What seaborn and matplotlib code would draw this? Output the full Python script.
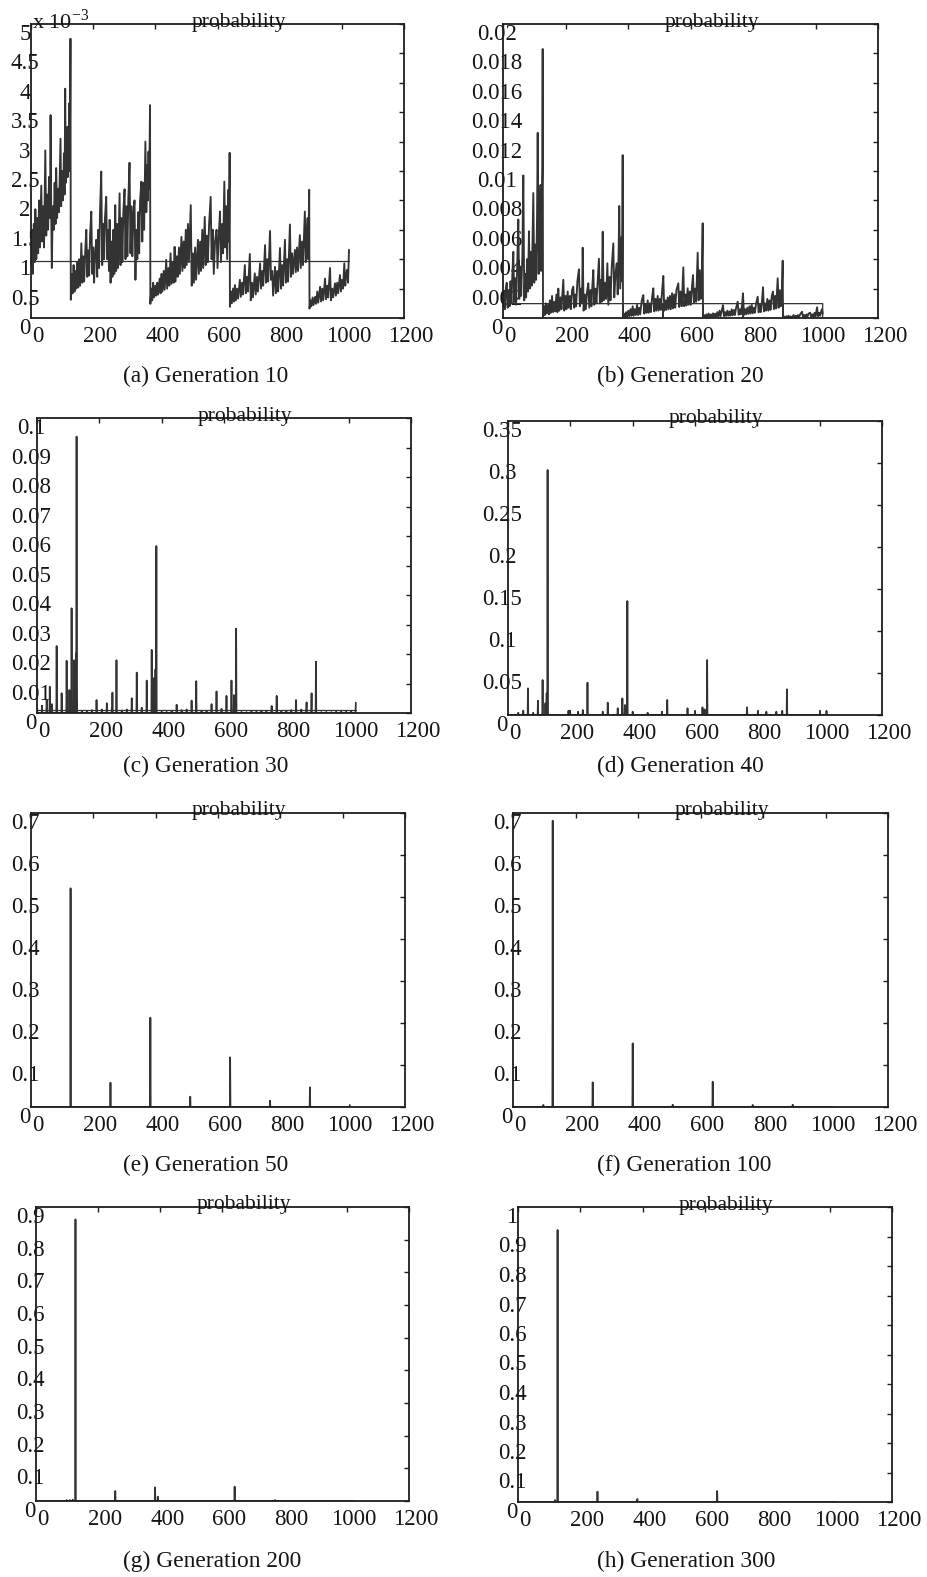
import numpy as np
import matplotlib
matplotlib.use("Agg")
import matplotlib.pyplot as plt
import seaborn as sns
from matplotlib.transforms import ScaledTranslation

sns.set_theme(style="white")
plt.rcParams["font.family"] = ["Liberation Serif", "DejaVu Serif"]
plt.rcParams["mathtext.fontset"] = "stix"

# ---------------- data ----------------
N_STATES = 1024
x_ticks = [0, 200, 400, 600, 800, 1000, 1200]
x_tick_labels = ["0", "200", "400", "600", "800", "1000", "1200"]
uniform_level = 1.0 / 1024  # initial uniform probability

# (a) Generation 10, values in units of 1e-3 (vertices)
gen10_pts = [
    (0, 0.9), (3, 1.5), (6, 0.75), (9, 1.6), (12, 0.95), (14, 1.85), (17, 1.0), (20, 1.7), (23, 1.1), (26, 2.0),
    (29, 1.2), (33, 2.25), (36, 1.3), (39, 1.9), (42, 1.2), (46, 2.85), (49, 1.4), (52, 2.1), (55, 1.5), (58, 2.4),
    (61, 1.7), (63, 3.45), (65, 1.8), (67, 0.85), (70, 1.9), (73, 1.5), (76, 2.3), (79, 1.6), (81, 2.55), (84, 1.7),
    (87, 2.2), (90, 1.8), (93, 2.6), (95, 3.05), (97, 1.9), (100, 2.5), (103, 2.0), (106, 2.8), (108, 2.1), (110, 3.9),
    (112, 2.3), (114, 3.0), (116, 2.4), (117, 3.25), (119, 2.4), (121, 3.0), (123, 3.65), (125, 2.5), (127, 4.75),
    (128, 0.31), (131, 0.75), (134, 0.42), (137, 0.9), (140, 0.45), (143, 0.8), (146, 0.5), (149, 0.95), (152, 0.52),
    (155, 1.0), (158, 0.55), (162, 1.27), (165, 0.6), (168, 1.05), (171, 0.62), (175, 1.2), (178, 1.5), (181, 0.7),
    (184, 1.15), (187, 0.72), (190, 1.4), (194, 1.81), (197, 0.75), (200, 1.2), (203, 0.6), (206, 1.1), (210, 1.33),
    (213, 0.7), (216, 1.5), (219, 0.85), (222, 1.8), (226, 2.49), (229, 0.9), (232, 1.6), (235, 1.0), (238, 1.7),
    (242, 2.06), (245, 1.0), (248, 1.5), (251, 0.8), (253, 1.67), (256, 0.6), (259, 1.3), (262, 0.7), (265, 1.5),
    (268, 0.75), (271, 1.92), (274, 0.8), (277, 1.6), (280, 0.85), (285, 2.12), (288, 0.9), (291, 1.7), (294, 0.95),
    (297, 1.8), (301, 2.19), (304, 1.0), (307, 1.9), (310, 1.05), (313, 2.0), (317, 2.64), (320, 1.1), (323, 1.9),
    (326, 1.05), (329, 1.7), (333, 2.0), (336, 0.65), (339, 1.5), (342, 1.0), (345, 1.8), (348, 1.1), (351, 2.0),
    (355, 2.32), (358, 1.3), (361, 2.3), (364, 1.5), (368, 3.0), (371, 1.8), (374, 2.6), (376, 2.0), (378, 2.83),
    (380, 2.2), (383, 3.62),
    (384, 0.24), (387, 0.5), (390, 0.3), (393, 0.6), (396, 0.35), (400, 0.55), (403, 0.38), (406, 0.6), (409, 0.4),
    (414, 0.67), (417, 0.42), (420, 0.75), (423, 0.45), (427, 0.8), (430, 0.48), (435, 0.99), (438, 0.5), (442, 0.85),
    (445, 0.55), (449, 1.1), (452, 0.58), (456, 0.95), (459, 0.6), (462, 1.21), (465, 0.62), (469, 1.05), (472, 0.7),
    (476, 1.2), (479, 0.75), (484, 1.38), (487, 0.8), (491, 1.3), (494, 0.85), (498, 1.5), (501, 0.9), (505, 1.6),
    (508, 0.95), (514, 1.92), (517, 0.55), (521, 1.1), (524, 0.6), (528, 1.2), (531, 0.65), (537, 1.33), (540, 0.75),
    (544, 1.3), (547, 0.8), (551, 1.5), (554, 0.85), (559, 1.72), (562, 0.9), (566, 1.4), (569, 0.95), (573, 1.6),
    (578, 2.06), (581, 1.0), (585, 1.5), (588, 0.75), (592, 1.3), (597, 1.5), (600, 0.85), (604, 1.4), (608, 1.81),
    (611, 0.95), (615, 1.6), (618, 1.1), (622, 2.32), (625, 1.2), (628, 1.9), (631, 1.0), (635, 2.18), (637, 1.3),
    (639, 2.81),
    (640, 0.19), (643, 0.45), (646, 0.25), (650, 0.5), (653, 0.28), (656, 0.56), (659, 0.3), (663, 0.5), (666, 0.33),
    (672, 0.65), (675, 0.36), (679, 0.6), (682, 0.4), (688, 0.9), (691, 0.42), (695, 0.7), (698, 0.45), (704, 1.09),
    (707, 0.3), (711, 0.6), (714, 0.35), (720, 0.76), (723, 0.4), (727, 0.7), (730, 0.45), (737, 0.93), (740, 0.5),
    (744, 0.8), (747, 0.55), (753, 1.24), (756, 0.6), (760, 1.0), (763, 0.62), (769, 1.48), (772, 0.65), (776, 0.8),
    (779, 0.38), (785, 0.87), (788, 0.42), (792, 0.8), (795, 0.45), (801, 1.19), (804, 0.5), (808, 0.9), (811, 0.55),
    (817, 1.33), (820, 0.6), (824, 1.0), (827, 0.62), (833, 1.59), (836, 0.7), (840, 1.1), (843, 0.75), (849, 1.16),
    (852, 0.78), (856, 1.2), (859, 0.8), (865, 1.41), (868, 0.85), (872, 1.3), (875, 0.9), (881, 1.81), (884, 0.95),
    (887, 1.4), (890, 1.7), (892, 1.0), (895, 2.18),
    (896, 0.16), (899, 0.3), (902, 0.2), (906, 0.35), (909, 0.22), (914, 0.36), (917, 0.24), (921, 0.45), (924, 0.26),
    (930, 0.53), (933, 0.28), (937, 0.5), (940, 0.3), (946, 0.67), (949, 0.32), (953, 0.55), (956, 0.35), (962, 0.85),
    (965, 0.3), (969, 0.5), (972, 0.35), (978, 0.59), (981, 0.38), (985, 0.6), (988, 0.42), (994, 0.73), (997, 0.45),
    (1001, 0.65), (1004, 0.5), (1008, 0.93), (1011, 0.55), (1014, 0.75), (1017, 0.82), (1020, 0.6), (1023, 1.16),
]
gen10_ref_x = [0, 1023]
gen10_ref_y = [0.977, 0.977]

# (b) Generation 20, values in units of 1e-3
gen20_pts = [
    (0, 0.8), (3, 1.8), (6, 0.6), (9, 2.0), (12, 2.4), (15, 0.7), (18, 1.9), (21, 0.8), (24, 2.5), (27, 1.0),
    (30, 3.0), (33, 4.5), (36, 1.1), (39, 2.7), (42, 0.9), (45, 3.2), (49, 6.7), (52, 1.3), (55, 3.5), (58, 1.5),
    (62, 4.3), (65, 9.7), (68, 1.2), (71, 3.0), (74, 1.4), (77, 4.0), (80, 1.8), (83, 5.9), (86, 2.0), (89, 4.5),
    (92, 2.2), (95, 6.0), (97, 8.5), (100, 2.4), (103, 5.0), (106, 2.6), (109, 7.0), (111, 12.6), (114, 3.0),
    (117, 6.5), (120, 9.05), (122, 3.2), (124, 7.5), (126, 10.4), (127, 18.3),
    (128, 0.1), (131, 0.8), (134, 0.2), (137, 1.0), (140, 0.3), (144, 0.9), (147, 0.25), (150, 1.2), (153, 0.35),
    (157, 1.5), (160, 0.4), (164, 1.1), (167, 0.45), (171, 1.6), (174, 0.4), (177, 2.0), (180, 0.5), (184, 1.4),
    (187, 0.6), (193, 2.6), (196, 0.5), (200, 1.5), (203, 0.6), (207, 1.8), (210, 0.7), (214, 1.5), (217, 0.6),
    (221, 1.9), (225, 2.13), (228, 0.7), (231, 1.6), (234, 0.8), (238, 2.5), (243, 3.31), (246, 0.8), (250, 2.0),
    (253, 1.0), (255, 4.78), (258, 0.5), (262, 1.6), (265, 0.6), (269, 1.8), (273, 2.36), (276, 0.7), (280, 1.9),
    (283, 0.8), (286, 2.2), (289, 3.26), (292, 0.9), (296, 2.0), (299, 1.0), (303, 2.5), (307, 4.03), (310, 1.0),
    (314, 2.6), (316, 1.1), (319, 5.87), (322, 1.2), (326, 2.4), (330, 1.3), (334, 3.72), (337, 0.9), (341, 2.8),
    (344, 1.2), (348, 3.5), (353, 5.08), (356, 1.4), (360, 3.0), (364, 3.72), (367, 1.6), (370, 4.5), (372, 7.62),
    (375, 2.0), (378, 4.2), (380, 5.53), (381, 2.5), (383, 11.08),
    (384, 0.05), (387, 0.3), (390, 0.08), (394, 0.4), (397, 0.1), (401, 0.5), (404, 0.12), (408, 0.6), (411, 0.15),
    (415, 0.8), (418, 0.15), (422, 0.6), (425, 0.2), (429, 0.9), (432, 0.2), (436, 0.7), (439, 0.25), (444, 1.2),
    (449, 1.56), (452, 0.3), (456, 0.9), (459, 0.35), (463, 1.2), (466, 0.35), (470, 1.0), (473, 0.4), (477, 1.4),
    (481, 2.02), (484, 0.45), (488, 1.3), (491, 0.5), (495, 1.5), (498, 0.5), (502, 1.3), (505, 0.55), (509, 1.8),
    (513, 2.86), (516, 0.5), (520, 1.2), (523, 0.55), (527, 1.4), (530, 0.6), (534, 1.5), (537, 0.6), (541, 1.68),
    (544, 0.65), (548, 1.6), (551, 0.7), (555, 1.9), (561, 2.36), (564, 0.75), (568, 1.8), (572, 0.8), (577, 3.45),
    (580, 0.8), (584, 1.6), (587, 0.85), (591, 2.02), (594, 0.9), (598, 1.8), (601, 0.9), (605, 2.2), (608, 2.92),
    (611, 1.0), (615, 2.0), (618, 1.1), (623, 4.44), (626, 1.2), (630, 3.26), (633, 1.3), (636, 2.5), (639, 6.44),
    (640, 0.03), (644, 0.2), (647, 0.05), (651, 0.25), (654, 0.06), (658, 0.3), (661, 0.07), (665, 0.25), (668, 0.08),
    (672, 0.32), (675, 0.08), (679, 0.3), (682, 0.1), (686, 0.4), (689, 0.1), (693, 0.5), (696, 0.12), (700, 0.5),
    (704, 0.88), (707, 0.12), (711, 0.4), (714, 0.14), (718, 0.5), (721, 0.15), (725, 0.45), (728, 0.16), (732, 0.59),
    (735, 0.18), (739, 0.55), (742, 0.2), (746, 0.7), (751, 1.11), (754, 0.22), (758, 0.6), (761, 0.25), (765, 0.9),
    (768, 1.68), (771, 0.2), (775, 0.6), (778, 0.25), (782, 0.7), (785, 0.28), (789, 0.8), (792, 0.3), (796, 0.9),
    (799, 0.32), (803, 0.7), (806, 0.35), (810, 1.0), (815, 1.45), (818, 0.38), (822, 0.9), (825, 0.4), (829, 1.2),
    (832, 2.09), (835, 0.45), (839, 1.0), (842, 0.5), (846, 1.3), (849, 0.5), (853, 1.2), (856, 0.55), (860, 1.5),
    (864, 1.79), (867, 0.6), (871, 1.5), (874, 0.65), (879, 2.7), (882, 0.7), (886, 1.9), (889, 0.8), (892, 1.5),
    (895, 3.9),
    (896, 0.02), (900, 0.1), (903, 0.02), (907, 0.12), (910, 0.03), (914, 0.15), (917, 0.03), (921, 0.1), (924, 0.04),
    (930, 0.2), (933, 0.04), (937, 0.15), (940, 0.05), (944, 0.2), (947, 0.05), (951, 0.25), (957, 0.43), (960, 0.06),
    (964, 0.2), (967, 0.07), (971, 0.25), (974, 0.08), (978, 0.3), (983, 0.36), (986, 0.08), (990, 0.25), (993, 0.1),
    (997, 0.35), (1000, 0.1), (1005, 0.73), (1008, 0.12), (1012, 0.35), (1015, 0.15), (1018, 0.45), (1021, 0.6),
    (1023, 0.3),
]
gen20_ref_x = [0, 127, 128, 129, 383, 384, 385, 511, 512, 513, 639, 640, 641, 767, 768, 769, 895, 896, 897, 1023, 1023]
gen20_ref_y = [0.977, 0.977, 0, 0.977, 0.977, 0, 0.977, 0.977, 0, 0.977, 0.977, 0, 0.977, 0.977, 0, 0.977,
               0.977, 0, 0.977, 0.977, 0]

# (c) Generation 30: low background every 16 states (1e-3) + spikes (1e-3)
gen30_background = [
    1.5, 2.5, 1.2, 3.0, 2.0, 1.8, 3.5, 2.5,
    0.4, 0.6, 0.5, 1.0, 0.8, 1.2, 1.0, 1.5,
    0.6, 0.9, 1.2, 1.5, 1.0, 1.8, 2.0, 2.5,
    0.3, 0.5, 0.4, 0.8, 0.6, 1.0, 1.2, 1.0,
    0.5, 0.8, 0.7, 1.2, 1.0, 1.4, 1.6, 2.0,
    0.2, 0.4, 0.3, 0.6, 0.5, 0.7, 0.6, 0.9,
    0.4, 0.6, 0.8, 1.0, 0.9, 1.2, 1.5, 1.8,
    0.2, 0.3, 0.4, 0.3, 0.5, 0.6, 0.5, 0.8,
]
gen30_spike_x = [31, 41, 63, 79, 95, 104, 111, 119, 125, 127, 191, 224, 242, 255, 304, 320, 352, 368, 375, 380, 383,
                 448, 496, 511, 560, 576, 608, 624, 632, 639, 753, 769, 831, 865, 881, 895, 1023]
gen30_spike_y = [4.4, 8.9, 22.7, 6.7, 17.7, 7.8, 35.5, 17.9, 20.2, 93.7, 4.4, 3.3, 6.9, 17.9, 5.0, 13.7, 11.0, 21.4,
                 11.8, 14.8, 56.6, 2.8, 4.2, 10.8, 3.0, 7.3, 5.8, 11.0, 6.1, 28.6, 2.4, 5.8, 4.4, 3.6, 6.7, 17.4, 3.5]

# (d)-(h): spikes (state index, probability)
gen40_spike_x = [33, 49, 64, 81, 96, 111, 120, 124, 127, 194, 199, 225, 240, 255, 304, 320, 352, 367, 375, 383,
                 400, 448, 494, 511, 576, 600, 624, 631, 639, 767, 802, 829, 861, 880, 895, 1001, 1022]
gen40_spike_y = [0.0027, 0.0052, 0.0317, 0.0027, 0.017, 0.0417, 0.0139, 0.0258, 0.2917, 0.0052, 0.0052, 0.004,
                 0.006, 0.0385, 0.004, 0.0147, 0.008, 0.0198, 0.0119, 0.1357, 0.004, 0.0027, 0.004, 0.0179, 0.008,
                 0.005, 0.0091, 0.0067, 0.0655, 0.0091, 0.005, 0.004, 0.004, 0.005, 0.0306, 0.005, 0.005]
gen50_spike_x = [127, 255, 383, 511, 639, 767, 895, 1023]
gen50_spike_y = [0.5207, 0.058, 0.2127, 0.0246, 0.1183, 0.015, 0.0468, 0.0048]
gen100_spike_x = [97, 127, 255, 383, 511, 639, 767, 895]
gen100_spike_y = [0.005, 0.6817, 0.0587, 0.1516, 0.0055, 0.0603, 0.005, 0.0055]
gen200_spike_x = [99, 109, 118, 127, 255, 383, 392, 639, 769]
gen200_spike_y = [0.003, 0.003, 0.004, 0.862, 0.0306, 0.0418, 0.0133, 0.0439, 0.003]
gen300_spike_x = [119, 127, 255, 383, 639]
gen300_spike_y = [0.0068, 0.922, 0.035, 0.01, 0.0373]

captions = ["(a) Generation 10", "(b) Generation 20", "(c) Generation 30", "(d) Generation 40",
            "(e) Generation 50", "(f) Generation 100", "(g) Generation 200", "(h) Generation 300"]

# ---------------- layout / style ----------------
W, H = 927, 1577
LINE = "#333333"
SPINE = "#1e1e1e"
TXT = "#151515"
boxes = [(31, 24, 404, 318), (503, 24, 878, 318), (37, 418, 411, 713), (508, 421, 882, 715),
         (31, 813, 405, 1107), (513, 813, 888, 1107), (36, 1207, 409, 1501), (518, 1207, 892, 1502)]
cap_left = [123, 597]
cap_y = [376, 376, 766, 766, 1165, 1165, 1561, 1561]

fig = plt.figure(figsize=(W / 100, H / 100), dpi=100)
fig.patch.set_facecolor("white")


def fmt(v):
    return "%g" % round(v, 4)


def make_ax(box):
    l, t, r, b = box
    return fig.add_axes([l / W, 1 - b / H, (r - l) / W, (b - t) / H])


def style(ax, ymax, ystep):
    nt = int(round(ymax / ystep))
    yt = [round(i * ystep, 6) for i in range(nt + 1)]
    ax.set_xlim(0, 1200)
    ax.set_ylim(0, ymax)
    ax.set_xticks(x_ticks)
    ax.set_xticklabels(x_tick_labels)
    ax.set_yticks(yt)
    ax.set_yticklabels([fmt(v) for v in yt])
    ax.tick_params(axis="both", direction="in", top=True, right=True, length=3.5, width=1.0,
                   color=SPINE, labelcolor=TXT, labelsize=16.5)
    ax.tick_params(axis="x", pad=5.5)
    ax.tick_params(axis="y", pad=4.3)
    off = ScaledTranslation(7 / 100, 0, fig.dpi_scale_trans)
    for lab in ax.get_xticklabels():
        lab.set_transform(lab.get_transform() + off)
    for lab in ax.get_yticklabels():
        lab.set_ha("center")
        lab.set_va("top")
    for s in ax.spines.values():
        s.set_visible(True)
        s.set_color(SPINE)
        s.set_linewidth(1.3)
    ax.grid(False)
    ax.set_facecolor("white")
    ax.set_xlabel("")
    ax.set_ylabel("")
    ax.text(0.5 + 21 / 373, 1 - 2.5 / 294, "probability", transform=ax.transAxes, ha="center",
            va="baseline", fontsize=15.5, color=TXT, zorder=10, clip_on=False)


def line(ax, x, y, lw=1.25):
    sns.lineplot(x=np.asarray(x, dtype=float), y=np.asarray(y, dtype=float), ax=ax, color=LINE,
                 linewidth=lw, sort=False, estimator=None, legend=False)


def spikes(x, y):
    arr = np.zeros(N_STATES)
    arr[np.asarray(x)] = y
    return np.arange(N_STATES), arr


axes = [make_ax(b) for b in boxes]

# (a)
ax = axes[0]
gx, gy = zip(*gen10_pts)
line(ax, gen10_ref_x, gen10_ref_y, lw=0.9)
line(ax, gx, gy, lw=1.35)
style(ax, 5, 0.5)
fig.text(32 / W, 1 - 29 / H, "x 10$^{\\mathregular{-3}}$", ha="left", va="baseline", fontsize=16, color=TXT)

# (b)
ax = axes[1]
gx, gy = zip(*gen20_pts)
line(ax, gen20_ref_x, np.array(gen20_ref_y) * 1e-3, lw=0.9)
line(ax, gx, np.array(gy) * 1e-3, lw=1.35)
style(ax, 0.02, 0.002)

# (c)
ax = axes[2]
cx = np.arange(N_STATES)
cy = np.zeros(N_STATES)
cy[::16] = gen30_background
cy[np.asarray(gen30_spike_x)] = gen30_spike_y
line(ax, [0, 1023], [uniform_level, uniform_level], lw=0.9)
line(ax, cx, cy * 1e-3)
style(ax, 0.1, 0.01)

# (d)-(h)
for ax, sx, sy, ymax, ystep in [
    (axes[3], gen40_spike_x, gen40_spike_y, 0.35, 0.05),
    (axes[4], gen50_spike_x, gen50_spike_y, 0.7, 0.1),
    (axes[5], gen100_spike_x, gen100_spike_y, 0.7, 0.1),
    (axes[6], gen200_spike_x, gen200_spike_y, 0.9, 0.1),
    (axes[7], gen300_spike_x, gen300_spike_y, 1.0, 0.1),
]:
    px, py = spikes(sx, sy)
    line(ax, px, py)
    style(ax, ymax, ystep)

for i, cap in enumerate(captions):
    fig.text(cap_left[i % 2] / W, 1 - cap_y[i] / H, cap, ha="left", va="center", fontsize=16.8, color=TXT)

fig.savefig("out.png", dpi=100, facecolor="white")
